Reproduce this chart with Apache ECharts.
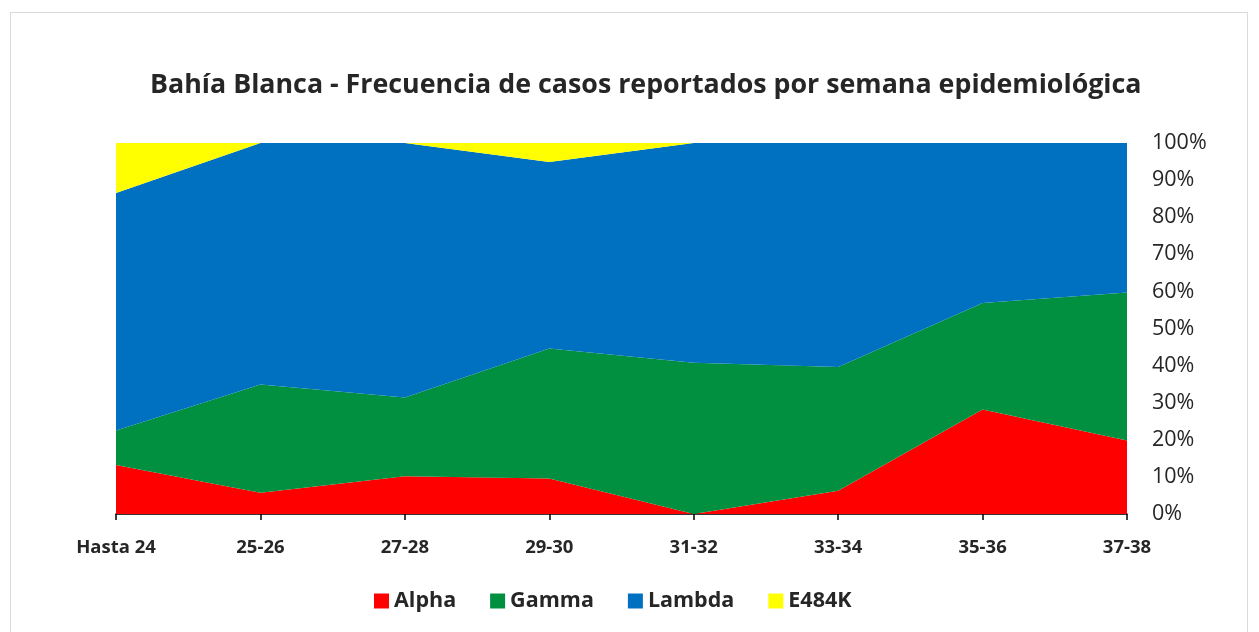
<!DOCTYPE html>
<html><head><meta charset="utf-8">
<script src="https://cdn.jsdelivr.net/npm/echarts@6/dist/echarts.min.js"></script>
<style>html,body{margin:0;padding:0;background:#fff}#c{width:1259px;height:632px}
#frame{position:absolute;left:10px;top:12px;width:1238px;height:625px;border:1px solid #d9d9d9;box-sizing:border-box;pointer-events:none}</style>
</head><body>
<div id="c"></div><div id="frame"></div>
<script>
const categories = ['Hasta 24','25-26','27-28','29-30','31-32','33-34','35-36','37-38'];
const alpha  = [13.2, 5.7, 10.2, 9.6, 0, 6.3, 28.2, 19.8];
const gamma  = [9.3, 29.2, 21.2, 35.0, 40.8, 33.3, 28.7, 39.9];
const lambda = [64.0, 65.1, 68.6, 50.3, 59.2, 60.4, 43.1, 40.3];
const e484k  = [13.5, 0, 0, 5.1, 0, 0, 0, 0];
const yTicks = [0,10,20,30,40,50,60,70,80,90,100];

const FONT = 'Open Sans';
function area(name, data, color){
  return {name, type:'line', stack:'total', data, showSymbol:false, symbol:'none',
    lineStyle:{width:0}, itemStyle:{color}, areaStyle:{color, opacity:1}, emphasis:{disabled:true}};
}
const chart = echarts.init(document.getElementById('c'));
chart.setOption({
  animation:false,
  title:{text:'Bahía Blanca - Frecuencia de casos reportados por semana epidemiológica',
    left:145, top:67, textStyle:{fontFamily:FONT, fontSize:26.8, fontWeight:'bold', color:'#262626'}},
  legend:{bottom:15, left:369, icon:'rect', itemWidth:15, itemHeight:15, itemGap:34,
    textStyle:{fontFamily:FONT, fontSize:21.5, fontWeight:'bold', color:'#262626'},
    data:['Alpha','Gamma','Lambda','E484K']},
  grid:{left:116, right:132, top:143, bottom:118, containLabel:false},
  xAxis:{type:'category', data:categories, boundaryGap:false,
    axisLine:{lineStyle:{color:'#000', width:1.5}},
    axisTick:{show:true, length:6, lineStyle:{color:'#000', width:1.5}},
    axisLabel:{fontFamily:FONT, fontSize:18.5, fontWeight:'bold', color:'#262626', margin:24}},
  yAxis:{type:'value', position:'right', min:0, max:100, interval:10,
    axisLine:{show:false}, axisTick:{show:false},
    splitLine:{show:true, lineStyle:{color:'#d9d9d9'}},
    axisLabel:{fontFamily:FONT, fontSize:21.5, color:'#262626', margin:25,
      formatter:v => yTicks.includes(v) ? v + '%' : ''}},
  series:[
    area('Alpha', alpha, '#ff0000'),
    area('Gamma', gamma, '#009040'),
    area('Lambda', lambda, '#0070c0'),
    area('E484K', e484k, '#ffff00')
  ]
});
</script>
</body></html>
